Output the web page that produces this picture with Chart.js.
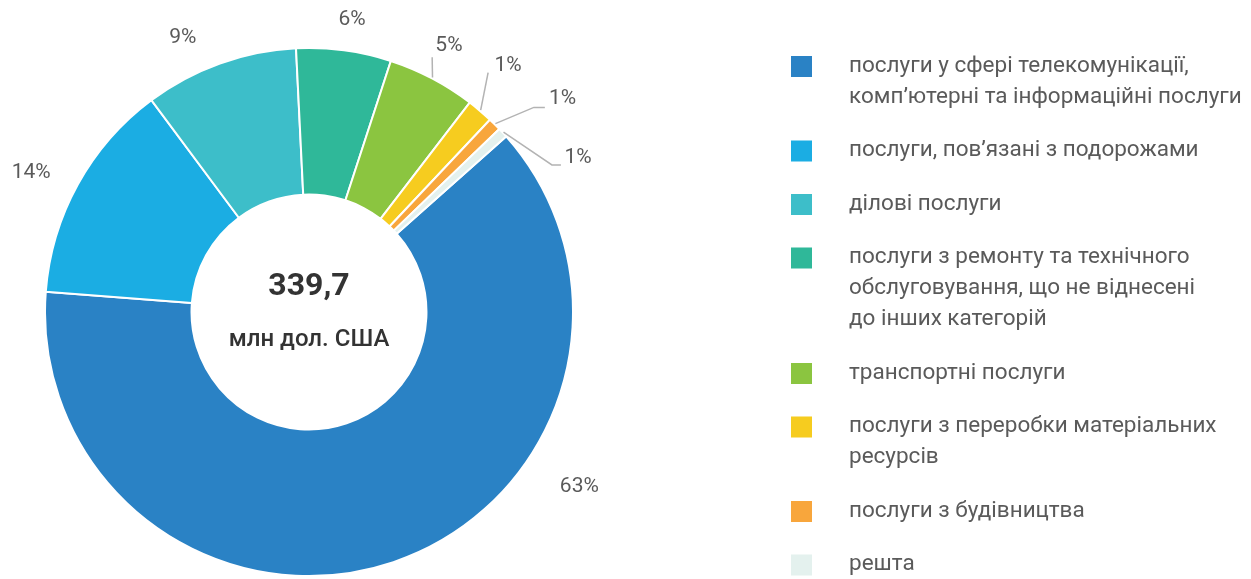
<!DOCTYPE html>
<html>
<head>
<meta charset="utf-8">
<script src="https://cdn.jsdelivr.net/npm/chart.js@4.4.1/dist/chart.umd.min.js"></script>
<style>
  html, body { margin: 0; padding: 0; background: #fff; }
  #wrap { width: 1251px; height: 579px; position: relative; }
</style>
</head>
<body>
<div id="wrap"><canvas id="servicesChart" width="1251" height="579"></canvas></div>
<script>
// ─── Data ────────────────────────────────────────────────────────────────────

const categories = [
  ["послуги у сфері телекомунікації,", "комп’ютерні та інформаційні послуги"],
  ["послуги, пов’язані з подорожами"],
  ["ділові послуги"],
  ["послуги з ремонту та технічного", "обслуговування, що не віднесені", "до інших категорій"],
  ["транспортні послуги"],
  ["послуги з переробки матеріальних", "ресурсів"],
  ["послуги з будівництва"],
  ["решта"]
];
const shares      = [62.8, 13.6, 9.4, 5.8, 5.4, 1.6, 0.8, 0.6];
const shareLabels = ["63%", "14%", "9%", "6%", "5%", "1%", "1%", "1%"];
const totalValue  = "339,7";
const totalUnit   = "млн дол. США";

const colors = ["#2a82c5", "#1badE3", "#3dbec9", "#2fb899", "#8bc540", "#f6cc1f", "#f8a63c", "#e4f1ee"];

// label spot: [clock angle in degrees, distance from centre]
const labelSpots = [[122.9, 322], [296.7, 311], [335.3, 302], [8.4, 295], [27.7, 301], [38.9, 317], [50.0, 331], [60.2, 310]];
// leader lines for the small slices: end point [angle, distance], optional flat tail
const leaders = [null, null, null, null, { to: [25.8, 283] }, { to: [36.8, 299] }, { to: [47.7, 304], tail: 11 }, { to: [58.8, 284], tail: 9 }];

const FONT = "Roboto, 'Liberation Sans', sans-serif";
const TEXT = "#5a5a5a";

// ─── Helpers ─────────────────────────────────────────────────────────────────

function polar(cx, cy, deg, r) {
  const a = (deg - 90) * Math.PI / 180;
  return [cx + r * Math.cos(a), cy + r * Math.sin(a)];
}

// ─── Plugin: slice labels, centre text, legend ──────────────────────────────

const decorPlugin = {
  id: "decor",
  afterDraw(chart) {
    const ctx = chart.ctx;
    const meta = chart.getDatasetMeta(0);
    const first = meta.data[0];
    const cx = first.x, cy = first.y;

    ctx.save();

    // leader lines
    ctx.strokeStyle = "#b3b3b3";
    ctx.lineWidth = 1.5;
    meta.data.forEach((arc, i) => {
      const ld = leaders[i];
      if (!ld) return;
      const mid = (arc.startAngle + arc.endAngle) / 2;
      const sx = cx + (arc.outerRadius + 1) * Math.cos(mid);
      const sy = cy + (arc.outerRadius + 1) * Math.sin(mid);
      const [ex, ey] = polar(cx, cy, ld.to[0], ld.to[1]);
      ctx.beginPath();
      ctx.moveTo(sx, sy);
      ctx.lineTo(ex, ey);
      if (ld.tail) ctx.lineTo(ex + ld.tail, ey);
      ctx.stroke();
    });

    // percentage labels
    ctx.fillStyle = TEXT;
    ctx.font = "21px " + FONT;
    ctx.textAlign = "center";
    ctx.textBaseline = "middle";
    shareLabels.forEach((txt, i) => {
      const [x, y] = polar(cx, cy, labelSpots[i][0], labelSpots[i][1]);
      ctx.fillText(txt, x, y);
    });

    // centre text
    ctx.fillStyle = "#333";
    ctx.font = "bold 32px " + FONT;
    ctx.fillText(totalValue, cx, cy - 25);
    ctx.font = "500 24px " + FONT;
    ctx.fillText(totalUnit, cx, cy + 28);

    // legend
    const boxX = 791, textX = 849, lineH = 31, gap = 53.5;
    let y = 66;
    ctx.textAlign = "left";
    ctx.font = "22.5px " + FONT;
    categories.forEach((lines, i) => {
      ctx.fillStyle = colors[i];
      ctx.fillRect(boxX, y - 10, 21, 21);
      ctx.fillStyle = TEXT;
      lines.forEach((ln, k) => ctx.fillText(ln, textX, y + k * lineH));
      y += (lines.length - 1) * lineH + gap;
    });

    ctx.restore();
  }
};

// ─── Chart ───────────────────────────────────────────────────────────────────

new Chart(document.getElementById("servicesChart"), {
  type: "doughnut",
  data: {
    labels: categories.map(c => c.join(" ")),
    datasets: [{
      data: shares,
      backgroundColor: colors,
      borderColor: "#ffffff",
      borderWidth: 2,
      hoverOffset: 0
    }]
  },
  options: {
    responsive: false,
    animation: false,
    rotation: 48.3,
    cutout: "44.5%",
    layout: { padding: { left: 44, right: 677, top: 47, bottom: 2 } },
    plugins: {
      legend: { display: false },
      tooltip: { enabled: false }
    }
  },
  plugins: [decorPlugin]
});
</script>
</body>
</html>
